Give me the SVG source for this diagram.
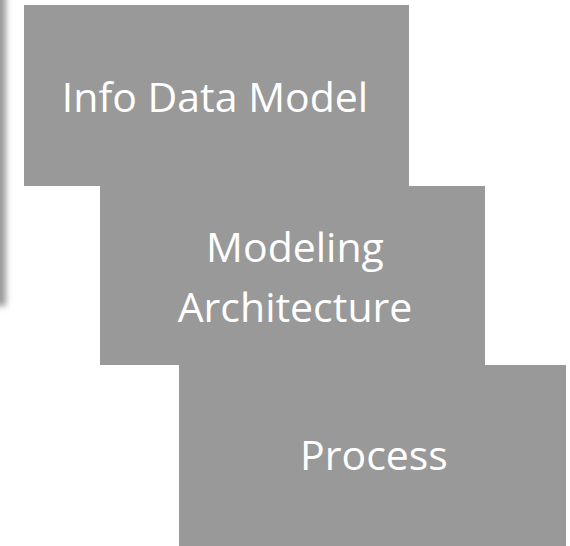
<svg xmlns="http://www.w3.org/2000/svg" width="570" height="546" viewBox="0 0 570 546">
  <defs>
    <filter id="blur" x="-1" y="-0.2" width="3" height="1.4">
      <feGaussianBlur stdDeviation="3"/>
    </filter>
    <style>
      .box { fill: #999999; }
      .lbl { font-family: "Open Sans", "Noto Sans", sans-serif; font-size: 41px; fill: #ffffff; text-anchor: middle; }
    </style>
  </defs>
  <rect x="0" y="0" width="570" height="546" fill="#ffffff"/>
  <rect x="-12" y="-10" width="18" height="316" fill="#9a9a9a" filter="url(#blur)"/>
  <g id="info-data-model">
    <rect class="box" x="24" y="5" width="385" height="181"/>
    <text class="lbl" x="215" y="112">Info Data Model</text>
  </g>
  <g id="modeling-architecture">
    <rect class="box" x="100" y="186" width="385" height="179"/>
    <text class="lbl" x="295" y="262">Modeling</text>
    <text class="lbl" x="295" y="322">Architecture</text>
  </g>
  <g id="process">
    <rect class="box" x="179" y="365" width="387" height="181"/>
    <text class="lbl" x="374" y="470">Process</text>
  </g>
  <g id="connectors"/>
</svg>
